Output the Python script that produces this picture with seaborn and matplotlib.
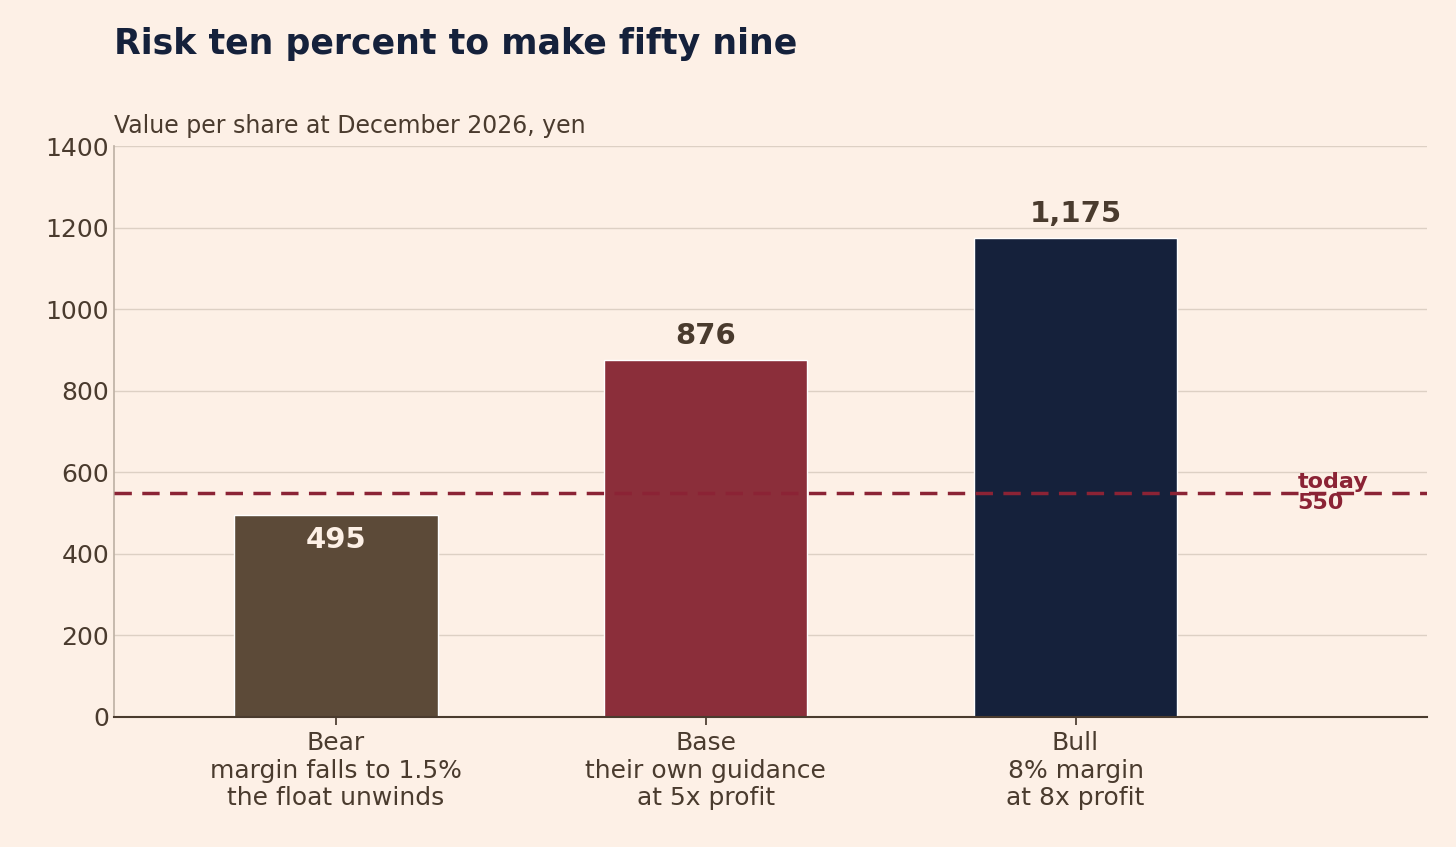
import matplotlib
matplotlib.use("Agg")
import matplotlib.pyplot as plt
import seaborn as sns
import pandas as pd

# ==========================================================
# DATA
# ==========================================================

scenarios = ["Bear", "Base", "Bull"]
tick_labels = [
    "Bear\nmargin falls to 1.5%\nthe float unwinds",
    "Base\ntheir own guidance\nat 5x profit",
    "Bull\n8% margin\nat 8x profit",
]
values = [495, 876, 1175]
value_labels = ["495", "876", "1,175"]
today_price = 550

BG = "#FDF0E6"
TEXT = "#4A3B2E"
NAVY = "#15213B"
RED = "#8B2E3A"
bar_colors = ["#5C4A38", RED, NAVY]

sns.set_theme(style="white")
plt.rcParams["font.family"] = ["DejaVu Sans"]

fig = plt.figure(figsize=(14.56, 8.47), dpi=100, facecolor=BG)
ax = fig.add_axes([0.0783, 0.1535, 0.9017, 0.6741], facecolor=BG)

df = pd.DataFrame({"scenario": scenarios, "value": values})
sns.barplot(
    data=df, x="scenario", y="value", hue="scenario",
    palette=bar_colors, width=0.55, legend=False, ax=ax, saturation=1,
)

ax.set_xlim(-0.6, 2.95)
ax.set_ylim(0, 1400)
ax.set_yticks(range(0, 1401, 200))
ax.yaxis.grid(True, color="#DDD0C4", linewidth=1)
ax.set_axisbelow(True)

ax.set_xticks(range(3))
ax.set_xticklabels(tick_labels, fontsize=18, color=TEXT)
ax.tick_params(axis="y", labelsize=18, colors=TEXT, left=True, length=0)
ax.tick_params(axis="x", bottom=True, length=6, color=TEXT, pad=4)
ax.set_xlabel("")
ax.set_ylabel("")

for side in ["top", "right"]:
    ax.spines[side].set_visible(False)
ax.spines["left"].set_color("#BFB2A6")
ax.spines["bottom"].set_color(TEXT)
ax.spines["bottom"].set_linewidth(1.5)

# value labels
for i, (v, lab) in enumerate(zip(values, value_labels)):
    if v < today_price:
        ax.text(i, v - 60, lab, ha="center", va="center",
                fontsize=21, fontweight="bold", color="#FDF0E6")
    else:
        ax.text(i, v + 25, lab, ha="center", va="bottom",
                fontsize=21, fontweight="bold", color=TEXT)

ax.axhline(today_price, color="#8B2335", linestyle=(0, (5, 3)),
           linewidth=2.5, zorder=5)
ax.text(2.6, today_price, "today\n550", ha="left", va="center",
        fontsize=16, fontweight="bold", color="#8B2335",
        linespacing=1.1, zorder=6)

fig.text(0.0783, 0.948, "Risk ten percent to make fifty nine",
         fontsize=25, fontweight="bold", color=NAVY, va="center")
fig.text(0.0783, 0.851, "Value per share at December 2026, yen",
         fontsize=17, color=TEXT, va="center")

fig.savefig("out.png", dpi=100, facecolor=BG)
